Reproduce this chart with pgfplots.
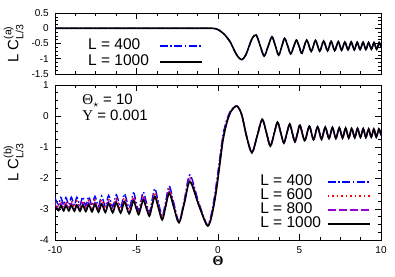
\documentclass[border=0pt]{standalone}
\usepackage{fontspec}
\setmainfont{Liberation Sans}
\newfontfamily\grk{Liberation Serif}
\usepackage{amsmath}
\usepackage{pgfplots}
\pgfplotsset{compat=1.18}
\usepackage{pgfplotstable}
\definecolor{myviolet}{rgb}{0.58,0,0.83}

\pgfplotstableread{
x k p r b
-10.00 -2.91 -2.85 -2.77 -2.65
-9.78 -3.05 -3.01 -2.94 -2.86
-9.64 -2.89 -2.83 -2.75 -2.63
-9.47 -3.06 -3.02 -2.95 -2.87
-9.33 -2.89 -2.83 -2.75 -2.63
-9.15 -3.06 -3.02 -2.95 -2.87
-9.00 -2.88 -2.82 -2.74 -2.62
-8.81 -3.07 -3.03 -2.96 -2.88
-8.66 -2.88 -2.82 -2.74 -2.62
-8.47 -3.07 -3.03 -2.96 -2.88
-8.30 -2.87 -2.81 -2.73 -2.61
-8.11 -3.08 -3.04 -2.97 -2.89
-7.93 -2.86 -2.80 -2.72 -2.60
-7.73 -3.09 -3.05 -2.98 -2.90
-7.55 -2.85 -2.79 -2.71 -2.59
-7.33 -3.10 -3.06 -2.99 -2.91
-7.14 -2.84 -2.78 -2.70 -2.58
-6.91 -3.11 -3.07 -3.00 -2.92
-6.71 -2.82 -2.76 -2.68 -2.56
-6.46 -3.12 -3.08 -3.01 -2.93
-6.24 -2.80 -2.74 -2.66 -2.54
-5.97 -3.13 -3.09 -3.02 -2.94
-5.74 -2.77 -2.71 -2.63 -2.51
-5.45 -3.15 -3.11 -3.04 -2.96
-5.19 -2.74 -2.68 -2.60 -2.48
-5.03 -2.96 -2.91 -2.85 -2.76
-4.87 -3.18 -3.15 -3.11 -3.06
-4.73 -2.95 -2.90 -2.84 -2.76
-4.58 -2.71 -2.65 -2.57 -2.45
-4.40 -2.97 -2.92 -2.87 -2.78
-4.21 -3.23 -3.20 -3.16 -3.11
-4.05 -2.92 -2.87 -2.81 -2.73
-3.87 -2.60 -2.54 -2.46 -2.34
-3.65 -2.98 -2.93 -2.88 -2.80
-3.42 -3.35 -3.32 -3.28 -3.23
-3.21 -2.92 -2.88 -2.83 -2.76
-2.99 -2.49 -2.43 -2.35 -2.26
-2.70 -2.97 -2.93 -2.89 -2.83
-2.39 -3.44 -3.43 -3.41 -3.39
-2.05 -2.78 -2.75 -2.71 -2.66
-1.72 -2.12 -2.06 -1.99 -1.90
-1.20 -2.85 -2.83 -2.80 -2.76
-0.69 -3.52 -3.51 -3.50 -3.49
-0.48 -3.41 -3.39 -3.36 -3.32
-0.27 -2.93 -2.89 -2.84 -2.77
-0.10 -2.39 -2.33 -2.27 -2.18
0.10 -1.60 -1.54 -1.48 -1.40
0.31 -0.77 -0.72 -0.67 -0.60
0.55 -0.20 -0.17 -0.14 -0.10
0.80 0.15 0.16 0.17 0.19
1.15 0.32 0.32 0.32 0.32
1.45 0.05 0.05 0.05 0.05
1.75 -0.65 -0.65 -0.65 -0.65
2.08 -1.18 -1.18 -1.18 -1.18
2.40 -0.65 -0.65 -0.65 -0.65
2.71 -0.11 -0.11 -0.11 -0.11
2.97 -0.54 -0.54 -0.54 -0.54
3.21 -0.97 -0.97 -0.97 -0.97
3.44 -0.58 -0.58 -0.58 -0.58
3.65 -0.20 -0.20 -0.20 -0.20
3.85 -0.54 -0.54 -0.54 -0.54
4.04 -0.87 -0.87 -0.87 -0.87
4.22 -0.56 -0.56 -0.56 -0.56
4.40 -0.26 -0.26 -0.26 -0.26
4.56 -0.55 -0.55 -0.55 -0.55
4.72 -0.83 -0.83 -0.83 -0.83
4.88 -0.55 -0.55 -0.55 -0.55
5.03 -0.30 -0.30 -0.30 -0.30
5.32 -0.79 -0.79 -0.79 -0.79
5.60 -0.33 -0.33 -0.33 -0.33
5.86 -0.76 -0.76 -0.76 -0.76
6.11 -0.35 -0.35 -0.35 -0.35
6.35 -0.75 -0.75 -0.75 -0.75
6.58 -0.36 -0.36 -0.36 -0.36
6.81 -0.73 -0.73 -0.73 -0.73
7.02 -0.37 -0.37 -0.37 -0.37
7.23 -0.72 -0.72 -0.72 -0.72
7.44 -0.38 -0.38 -0.38 -0.38
7.64 -0.71 -0.71 -0.71 -0.71
7.83 -0.39 -0.39 -0.39 -0.39
8.02 -0.71 -0.71 -0.71 -0.71
8.20 -0.40 -0.40 -0.40 -0.40
8.39 -0.70 -0.70 -0.70 -0.70
8.56 -0.40 -0.40 -0.40 -0.40
8.74 -0.69 -0.69 -0.69 -0.69
8.91 -0.41 -0.41 -0.41 -0.41
9.07 -0.69 -0.69 -0.69 -0.69
9.24 -0.42 -0.42 -0.42 -0.42
9.40 -0.68 -0.68 -0.68 -0.68
9.56 -0.42 -0.42 -0.42 -0.42
9.71 -0.68 -0.68 -0.68 -0.68
9.87 -0.42 -0.42 -0.42 -0.42
10.00 -0.62 -0.62 -0.62 -0.62
}\bottomdata

\pgfplotstableread{
x k
-10.00 0.00
-8.00 0.00
-6.00 0.00
-4.00 0.00
-2.00 0.00
-0.60 0.00
-0.10 -0.02
0.33 -0.17
0.74 -0.44
1.04 -0.77
1.25 -0.95
1.47 -1.03
1.70 -0.88
1.90 -0.60
2.10 -0.33
2.34 -0.22
2.58 -0.56
2.83 -0.91
3.07 -0.60
3.31 -0.28
3.52 -0.58
3.72 -0.88
3.91 -0.60
4.09 -0.33
4.28 -0.59
4.46 -0.84
4.64 -0.61
4.81 -0.39
4.98 -0.60
5.15 -0.82
5.44 -0.39
5.72 -0.76
5.98 -0.40
6.24 -0.75
6.48 -0.42
6.72 -0.74
6.94 -0.43
7.16 -0.73
7.38 -0.44
7.58 -0.72
7.78 -0.45
7.98 -0.71
8.17 -0.45
8.36 -0.71
8.54 -0.46
8.72 -0.70
8.90 -0.46
9.07 -0.70
9.24 -0.47
9.41 -0.69
9.57 -0.47
9.73 -0.69
9.89 -0.47
10.00 -0.62
}\topdata

\pgfplotsset{
  common/.style={
    scale only axis, width=326pt, xmin=-10, xmax=10,
    xtick={-10,-5,0,5,10}, minor x tick num=3, minor y tick num=3,
    tick align=inside, major tick length=6pt, minor tick length=3pt,
    every tick/.style={black, line width=0.6pt},
    axis line style={line width=0.8pt},
    tick label style={font=\fontsize{10}{10}\selectfont, inner sep=0pt},
    /pgf/number format/assume math mode=true,
    xticklabel shift=6pt, yticklabel shift=6pt,
    ylabel style={at={(axis description cs:-0.112,0.5)}, anchor=base, font=\fontsize{15}{15}\selectfont},
    legend plot pos=right, legend cell align=left,
    legend image code/.code={\draw[#1] (0pt,0pt) -- (42pt,0pt);},
    legend style={draw=none, fill=none, inner sep=0pt, font=\fontsize{15.5}{15.5}\selectfont,
      nodes={inner sep=0pt, text height=10.5pt, text depth=3.5pt}},
  },
  kline/.style={black, line width=1.6pt, smooth},
  bline/.style={blue, line width=1.4pt, smooth, dash pattern=on 8pt off 2.5pt on 1.5pt off 2.5pt},
  rline/.style={red, line width=1.4pt, smooth, dash pattern=on 1.5pt off 3pt},
  vline/.style={myviolet, line width=1.4pt, smooth, dash pattern=on 8pt off 3pt},
}

\begin{document}
\begin{tikzpicture}
\path[use as bounding box] (-55pt,-36pt) rectangle (340pt,240pt);
\begin{axis}[common, at={(0pt,0pt)}, height=155pt,
  ymin=-4, ymax=1, ytick={-4,-3,-2,-1,0,1},
  ylabel={L C$^{\text{(b)}}_{\text{L/3}}$},
  xlabel={\grk\bfseries Θ},
  xlabel style={at={(rel axis cs:0.5,0)}, anchor=north, yshift=-16pt, inner sep=0pt, font=\fontsize{14}{14}\selectfont},
  legend style={at={(rel axis cs:0.629,0.42)}, anchor=north west, column sep=6pt},
]
\addplot[bline] table[x=x,y=b]{\bottomdata};
\addlegendentry{L = 400}
\addplot[rline] table[x=x,y=r]{\bottomdata};
\addlegendentry{L = 600}
\addplot[vline] table[x=x,y=p]{\bottomdata};
\addlegendentry{L = 800}
\addplot[kline] table[x=x,y=k]{\bottomdata};
\addlegendentry{L = 1000}
\node[anchor=north west, align=left, inner sep=0pt, font=\fontsize{15}{15.5}\selectfont] at (rel axis cs:0.083,0.94)
  {{\grk Θ}$_{\star}$ = 10\\{\grk Υ} = 0.001};
\end{axis}
\begin{axis}[common, at={(0pt,166pt)}, height=61pt,
  ymin=-1.5, ymax=0.5, ytick={-1.5,-1,-0.5,0,0.5}, xticklabels={},
  ylabel={L C$^{\text{(a)}}_{\text{L/3}}$},
  legend style={at={(rel axis cs:0.101,0.58)}, anchor=north west, column sep=10pt, row sep=2pt},
]
\addplot[bline] table[x=x,y=k]{\topdata};
\addlegendentry{L = 400}
\addplot[kline] table[x=x,y=k]{\topdata};
\addlegendentry{L = 1000}
\end{axis}
\end{tikzpicture}
\end{document}
